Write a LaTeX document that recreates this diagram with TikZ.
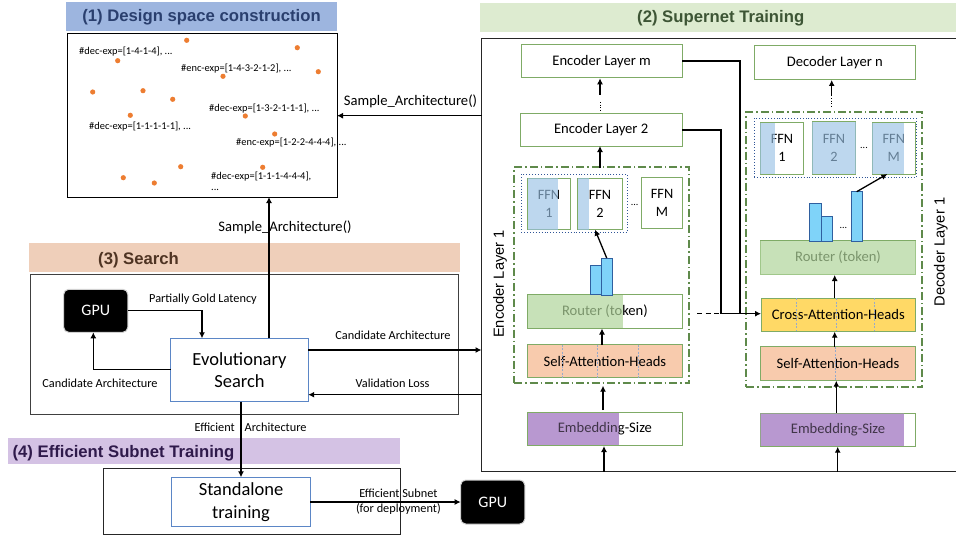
\documentclass[tikz,border=0pt]{standalone}
\usepackage{fontspec}
\setmainfont{Carlito}
\newfontfamily\headfont{Liberation Sans}
\usetikzlibrary{arrows.meta,calc}
\definecolor{gborder}{HTML}{7FAB66}
\definecolor{gdash}{HTML}{5F8A4B}
\definecolor{esblue}{HTML}{5B86C6}
\definecolor{dotblue}{HTML}{2F5597}
\definecolor{barfill}{HTML}{7FD3F9}
\definecolor{barline}{HTML}{2F5F9F}
\definecolor{orangedot}{HTML}{ED7D31}
\definecolor{ffnover}{HTML}{9AC2E5}
\definecolor{routerover}{HTML}{AFD49A}
\definecolor{embfill}{HTML}{B898D0}
\definecolor{hblue}{HTML}{9DB5DF}
\definecolor{hgreen}{HTML}{DDEBD0}
\definecolor{horange}{HTML}{EFCFBA}
\definecolor{hpurple}{HTML}{D4C2E4}
\definecolor{tblue}{HTML}{2A3F6E}
\definecolor{tgreen}{HTML}{3D5535}
\definecolor{tbrown}{HTML}{4F3423}
\definecolor{tpurple}{HTML}{2F1A4B}
\definecolor{attn}{HTML}{F8CBAD}
\definecolor{cross}{HTML}{FFD966}
\tikzset{
  x=1pt,y=-1pt,
  arr/.style={-{Latex[length=6pt,width=6pt]},line width=1.3pt,black},
  bx/.style={draw,inner sep=0pt,outer sep=0pt,align=center},
  lay/.style={draw=gborder,line width=1pt,font=\fontsize{14.6}{17}\selectfont},
  ffn/.style={draw=gborder,line width=1pt,font=\fontsize{14.3}{18}\selectfont},
  small/.style={inner sep=0pt,font=\fontsize{10.4}{11}\selectfont,anchor=west},
  lab/.style={inner sep=0pt,font=\fontsize{12.3}{13}\selectfont},
  lablg/.style={inner sep=0pt,font=\fontsize{14.6}{16}\selectfont},
  headf/.style={font=\headfont\bfseries\fontsize{16.7}{18}\selectfont},
  head/.style={inner sep=0pt,headf},
  gpu/.style={draw=black!18,line width=1pt,fill=black,text=white,rounded corners=5pt,font=\fontsize{16}{18}\selectfont},
  es/.style={draw=esblue,line width=1pt,font=\fontsize{18.5}{22.7}\selectfont},
  dashbox/.style={draw=gdash,line width=1.6pt,dash pattern=on 8pt off 3pt on 1.5pt off 3pt},
  dotbox/.style={draw=dotblue,line width=0.9pt,dotted},
  ffnov/.style={fill=ffnover,opacity=0.65},
  rtov/.style={fill=routerover,opacity=0.7},
  emov/.style={fill=embfill,opacity=0.35},
  headdash/.style={draw=dotblue!50,line width=0.5pt,dash pattern=on 2pt off 1.5pt},
  barb/.style={draw=barline,line width=0.9pt,fill=barfill},
  vdots/.style={line width=0.8pt,dash pattern=on 1pt off 1.6pt},
  sidelab/.style={rotate=90,inner sep=0pt,font=\headfont\fontsize{14.7}{16}\selectfont},
  tinydots/.style={inner sep=0pt,font=\fontsize{10}{10}\selectfont},
}
% name, x1, y1, x2, y2, style, text
\newcommand\bxn[7]{%
  \pgfmathsetmacro\bxcx{(#2+#4)/2}\pgfmathsetmacro\bxcy{(#3+#5)/2}%
  \pgfmathsetmacro\bxw{#4-#2}\pgfmathsetmacro\bxh{#5-#3}%
  \node[bx,minimum width=\bxw pt,minimum height=\bxh pt,#6] (#1) at (\bxcx,\bxcy) {#7};}
\begin{document}
\begin{tikzpicture}
\useasboundingbox (0,0) rectangle (956,535);
\clip (0,0) rectangle (956,535);
% ---- headings
\bxn{hA}{66}{2.5}{337}{31}{draw=none,fill=hblue,text=tblue,headf}{(1) Design space construction}
\bxn{hB}{480}{3.3}{956}{31.7}{draw=none,fill=hgreen}{}
\node[head,text=tgreen] (hBt) at (720.7,18) {(2) Supernet Training};
\bxn{hC}{29}{243}{460}{271.5}{draw=none,fill=horange}{}
\node[head,text=tbrown,anchor=west] (hCt) at (98,260) {(3) Search};
\bxn{hD}{8}{438}{400}{464}{draw=none,fill=hpurple}{}
\node[head,text=tpurple,anchor=west] (hDt) at (12.4,453.2) {(4) Efficient Subnet Training};
% ---- outer boxes
\bxn{design}{67}{33.3}{337}{197}{draw=black,line width=1pt}{}
\bxn{search}{30}{274.7}{458}{414}{draw=black!75,line width=1pt}{}
\bxn{deploy}{103.6}{468}{400.5}{534.3}{draw=black!85,line width=0.9pt}{}
\bxn{super}{481.5}{38.5}{962}{471.7}{draw=black!85,line width=1pt}{}
% ---- design space dots and labels
\foreach \px/\py in {186.7/40.3,297.3/47.7,117.7/60.7,318.3/71.7,223/76.3,92.7/92,143/90.7,172.7/99.3,130.3/115.3,245.3/116,274.7/134,180.7/166.7,262.7/167.3,123.3/177.7,154.3/183}
  \fill[orangedot] (\px,\py) circle (2.6pt);
\node[small] (d1) at (79,51.7) {\#dec-exp=[1-4-1-4], ...};
\node[small] (d2) at (181,68.3) {\#enc-exp=[1-4-3-2-1-2], ...};
\node[small] (d3) at (209,109) {\#dec-exp=[1-3-2-1-1-1], ...};
\node[small] (d4) at (89,127) {\#dec-exp=[1-1-1-1-1], ...};
\node[small] (d5) at (236,142.7) {\#enc-exp=[1-2-2-4-4-4], ...};
\node[small] (d6) at (211,176.5) {\#dec-exp=[1-1-1-4-4-4],};
\node[small] (d7) at (211,190) {...};
% ---- search part
\bxn{gpuA}{63.7}{289.3}{127.8}{332.3}{gpu}{GPU}
\bxn{ev}{170.8}{338.3}{308.2}{401.7}{es}{Evolutionary\\Search}
\bxn{stand}{171.8}{477.3}{310.3}{526.7}{es}{Standalone\\training}
\bxn{gpuB}{460.7}{480}{524.8}{524}{gpu}{GPU}
\coordinate (evT) at (269,338.3);
\coordinate (desB) at (269,197);
\draw[arr] (evT) -- (desB);
\coordinate (supL1) at (481.5,115.7);
\draw[arr] (supL1) -- (supL1 -| design.east);
\node[lablg] (sa1) at (410.5,101.7) {Sample\_Architecture()};
\node[lablg] (sa2) at (285,227) {Sample\_Architecture()};
\draw[arr] (gpuA.east |- 0,310.7) -| (202,338.3);
\draw[arr] (ev.west |- 0,369.7) -| (93.3,332.3);
\draw[arr] (ev.east |- 0,350) -- (super.west |- 0,350);
\draw[arr] (super.west |- 0,394.7) -- (ev.east |- 0,394.7);
\draw[arr] (241,401.7) -- (241,477.3);
\draw[arr] (stand.east |- gpuB.west) -- (gpuB.west);
\node[lab] (l1) at (203,299) {Partially Gold Latency};
\node[lab] (l2) at (100,383.3) {Candidate Architecture};
\node[lab] (l3) at (393,335.7) {Candidate Architecture};
\node[lab] (l4) at (392.6,383.3) {Validation Loss};
\node[lab,anchor=east] (l5a) at (235,427) {Efficient};
\node[lab,anchor=west] (l5b) at (244.5,427) {Architecture};
\node[lab] (l6) at (398.4,493) {Efficient Subnet};
\node[lab] (l7) at (398.4,508.7) {(for deployment)};
% ---- encoder column
\bxn{encM}{521}{44.3}{682.3}{78}{lay}{Encoder Layer m}
\bxn{enc2}{520}{113}{682.3}{146}{lay}{Encoder Layer 2}
\bxn{decN}{754}{46}{915.7}{79.5}{lay}{Decoder Layer n}
\bxn{encD}{514}{167}{689}{383}{dashbox}{}
\bxn{decD}{746}{112}{922}{387}{dashbox}{}
\bxn{encDot}{521.3}{174.3}{627}{232.7}{dotbox}{}
\bxn{decDot}{754.3}{118.3}{916.3}{177}{dotbox}{}
\bxn{ef1}{527.5}{178.3}{570.5}{229.7}{ffn}{FFN\\1}
\fill[ffnov] (ef1.south west) rectangle (558,178.3);
\bxn{ef2}{577.7}{178.3}{622.3}{229.7}{ffn}{FFN\\2}
\fill[ffnov] (ef2.south west) rectangle (589,178.3);
\bxn{efM}{641.7}{177}{682.5}{228.7}{ffn}{FFN\\M}
\node[tinydots] (edots) at (634.7,204.5) {...};
\bxn{rtE}{527.5}{294.7}{682.3}{328.3}{lay}{Router (token)}
\fill[rtov] (rtE.south west) rectangle (622.7,294.7);
\bxn{saE}{527.5}{344.7}{682.3}{377.7}{lay,fill=attn}{Self-Attention-Heads}
\foreach \hx in {562.7,597.3,638.7} \draw[headdash] (\hx,344.7) -- (\hx,377.7);
\fill[embfill] (527.5,412.7) rectangle (619,445.3);
\bxn{emE}{527.5}{412.7}{682.3}{445.3}{lay}{Embedding-Size}
\fill[emov] (emE.south west) rectangle (619,412.7);
% bars
\bxn{bE1}{590.7}{265.7}{601.3}{294.7}{barb}{}
\bxn{bE2}{601.3}{258}{612.3}{295}{barb}{}
% ---- decoder column
\bxn{df1}{760.3}{122.5}{803.7}{174}{ffn}{FFN\\1}
\fill[ffnov] (df1.south west) rectangle (775,122.5);
\bxn{df2}{812.3}{121.5}{855.7}{174}{ffn}{FFN\\2}
\fill[ffnov] (df2.south west) rectangle (df2.north east);
\bxn{dfM}{872}{122.5}{915.7}{174}{ffn}{FFN\\M}
\fill[ffnov] (dfM.south west) rectangle (903.7,122.5);
\node[tinydots] (ddots) at (864,148) {...};
\bxn{rtD}{760.3}{240.5}{915.7}{274.6}{lay}{Router (token)}
\fill[rtov] (rtD.south west) rectangle (rtD.north east);
\bxn{bD1}{809.7}{203.7}{821.3}{241}{barb}{}
\bxn{bD2}{821.3}{216}{832.7}{241}{barb}{}
\bxn{bD3}{851.3}{191.7}{862.3}{241}{barb}{}
\node[tinydots] (bdots) at (843.3,227.5) {...};
\bxn{crD}{761}{298.3}{915.7}{331.3}{lay,fill=cross}{Cross-Attention-Heads}
\foreach \hx in {796.7,836.7,874.7} \draw[headdash] (\hx,298.3) -- (\hx,331.3);
\bxn{saD}{760.3}{346.7}{915.7}{380}{lay,fill=attn}{Self-Attention-Heads}
\draw[headdash] (835.3,346.7) -- (835.3,380);
\fill[embfill] (760.3,413) rectangle (904.3,446);
\bxn{emD}{760.3}{413}{915.7}{446}{lay}{Embedding-Size}
\fill[emov] (emD.south west) rectangle (904.3,413);
% ---- side labels
\node[sidelab] (elab) at (500,284) {Encoder Layer 1};
\node[sidelab] (dlab) at (940.7,252) {Decoder Layer 1};
% ---- encoder connectors
\draw[arr] (600,94.7) -- (600,78.3);
\draw[vdots] (600,102) -- (600,110);
\draw[arr] (600,168) -- (600,146);
\draw[arr] (606.7,258) -- (595,229.7);
\draw[arr] (602,344.7) -- (602,328.5);
\draw[arr] (603,410) -- (603,385.7);
\draw[arr] (604,471.7) -- (604,446);
% ---- decoder connectors
\draw[arr] (831.7,96) -- (831.7,80);
\draw[vdots] (831.7,98) -- (831.7,107);
\draw[arr] (856.7,191.7) -- (887.3,174);
\draw[arr] (834.7,298.3) -- (834.7,275);
\draw[arr] (834.7,347) -- (834.7,331.7);
\draw[arr] (836.3,413) -- (836.3,380.7);
\draw[arr] (837.7,471.7) -- (837.7,446.7);
% ---- skip connections
\coordinate (dstart) at (697,313.7);
\coordinate (djoin) at (720.7,313.7);
\draw[line width=1.3pt,dash pattern=on 5pt off 3.5pt] (dstart) -- (djoin);
\draw[arr] (djoin) -- (crD.west |- djoin);
\draw[line width=1.3pt] (enc2.east |- 0,130) -| (721,313.7);
\draw[line width=1.3pt] (encM.east |- 0,61) -| (740,313.7);
\end{tikzpicture}
\end{document}
